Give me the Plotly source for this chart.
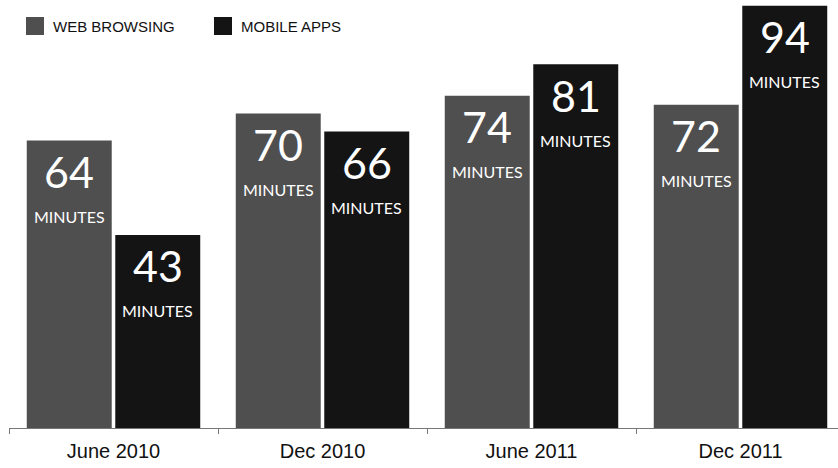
import plotly.graph_objects as go

# Average daily minutes spent, by period
periods = ["June 2010", "Dec 2010", "June 2011", "Dec 2011"]
web_browsing = [64, 70, 74, 72]
mobile_apps = [43, 66, 81, 94]
series_names = ["WEB BROWSING", "MOBILE APPS"]
unit_label = "MINUTES"

WEB_COLOR = "#4f4f4f"
APP_COLOR = "#141414"

W, H = 838, 468
M_L, M_R, M_T, M_B = 9, 0, 0, 40
BARGAP = 0.153
BARGROUPGAP = 0.04

fig = go.Figure()
for name, vals, color in [(series_names[0], web_browsing, WEB_COLOR),
                          (series_names[1], mobile_apps, APP_COLOR)]:
    fig.add_trace(go.Bar(
        x=periods, y=vals, name=name,
        marker=dict(color=color, line=dict(width=0)),
        showlegend=False,
    ))

# Value labels centred on each bar: big number plus a small unit line
slot = (1 - BARGAP) / 2
offsets = [-slot / 2, slot / 2]
annotations = []
for k, vals in enumerate([web_browsing, mobile_apps]):
    for i, v in enumerate(vals):
        xc = i + offsets[k]
        annotations.append(dict(
            x=xc, y=v, xref="x", yref="y", text=str(v), showarrow=False,
            yanchor="middle", yshift=-31,
            font=dict(family="Lato", size=43, color="white"),
        ))
        annotations.append(dict(
            x=xc, y=v, xref="x", yref="y", text=unit_label, showarrow=False,
            yanchor="middle", yshift=-76,
            font=dict(family="Lato", size=16, color="white"),
        ))

# Hand-drawn legend across the top
plot_w = W - M_L - M_R
plot_h = H - M_T - M_B


def px_x(px):
    return (px - M_L) / plot_w


def px_y(py):
    return 1 - (py - M_T) / plot_h


shapes = []
legend_items = [(26, series_names[0], WEB_COLOR), (214, series_names[1], APP_COLOR)]
for left, label, color in legend_items:
    shapes.append(dict(
        type="rect", xref="paper", yref="paper",
        x0=px_x(left), x1=px_x(left + 18), y0=px_y(35), y1=px_y(17),
        fillcolor=color, line=dict(width=0), layer="above",
    ))
    annotations.append(dict(
        x=px_x(left + 25), y=px_y(27), xref="paper", yref="paper",
        text=label, showarrow=False, xanchor="left", yanchor="middle",
        font=dict(family="Liberation Sans, Arial", size=15, color="#111111"),
    ))

fig.update_layout(
    width=W, height=H,
    margin=dict(l=M_L, r=M_R, t=M_T, b=M_B, pad=0),
    paper_bgcolor="white", plot_bgcolor="white",
    barmode="group", bargap=BARGAP, bargroupgap=BARGROUPGAP,
    annotations=annotations, shapes=shapes,
    xaxis=dict(
        type="category", range=[-0.5, -0.5 + plot_w / 209.0],
        showline=True, linecolor="#777777", linewidth=1,
        ticks="outside", tickson="boundaries", ticklen=5,
        tickcolor="#777777", tickwidth=1,
        ticklabelstandoff=5,
        showgrid=False, zeroline=False,
        tickfont=dict(family="Liberation Sans, Arial", size=20, color="#111111"),
    ),
    yaxis=dict(
        range=[0, 95.3], visible=False, showgrid=False, zeroline=False,
    ),
)

fig.write_html("out.html")
